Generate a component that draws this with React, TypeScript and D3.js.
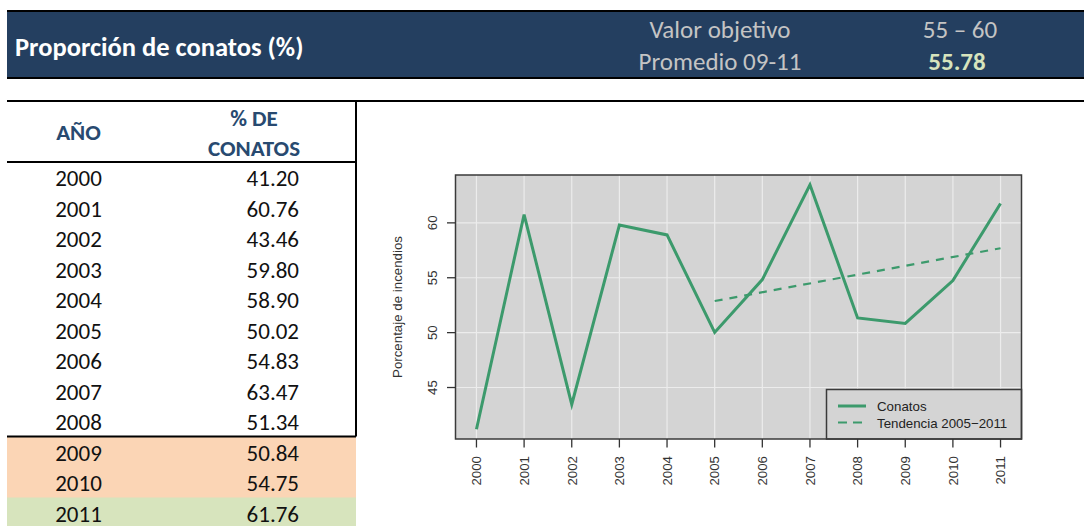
import React from "react";
import * as d3 from "d3";

const years = [2000, 2001, 2002, 2003, 2004, 2005, 2006, 2007, 2008, 2009, 2010, 2011];
const conatos = [41.2, 60.76, 43.46, 59.8, 58.9, 50.02, 54.83, 63.47, 51.34, 50.84, 54.75, 61.76];
const conatosLabels = ["41.20", "60.76", "43.46", "59.80", "58.90", "50.02", "54.83", "63.47", "51.34", "50.84", "54.75", "61.76"];
const trendYears = [2005, 2011];
const trendValues = [52.88, 57.69];
const yTicks = [45, 50, 55, 60];
const rowFills = ["none", "none", "none", "none", "none", "none", "none", "none", "none", "#fbd5b5", "#fbd5b5", "#d7e4bd"];
const titleText = "Proporción de conatos (%)";
const targetLabel = "Valor objetivo";
const targetValue = "55 – 60";
const avgLabel = "Promedio 09-11";
const avgValue = "55.78";
const colYear = "AÑO";
const colValue = ["% DE", "CONATOS"];
const yAxisTitle = "Porcentaje de incendios";
const legendLabels = ["Conatos", "Tendencia 2005\u22122011"];

const W = 1084;
const H = 526;
const green = "#3c9a6c";
const navy = "#243f60";
const tableFont = "Carlito, 'Open Sans', sans-serif";
const rFont = "'Liberation Sans', Arial, Helvetica, sans-serif";

export default function App() {
  // plot geometry
  const pl = 455.5, pr = 1021.5, pt = 175, pb = 439;
  const yMin = d3.min(conatos)!, yMax = d3.max(conatos)!;
  const yPad = (yMax - yMin) * 0.04;
  const xPad = (years[years.length - 1] - years[0]) * 0.04;
  const x = d3.scaleLinear().domain([years[0] - xPad, years[years.length - 1] + xPad]).range([pl, pr]);
  const y = d3.scaleLinear().domain([yMin - yPad, yMax + yPad]).range([pb, pt]);

  const line = d3.line<number>().x((_, i) => x(years[i])).y((d) => y(d));
  const trend = d3.line<number>().x((_, i) => x(trendYears[i])).y((d) => y(d));

  // table geometry
  const tl = 7, tr = 356;
  const rowTop = 162, rowH = 30.5;
  const yearX = 78.5, valX = 299;

  // legend geometry
  const lgL = 826.5, lgT = 389.5;

  return (
    <svg width={W} height={H} style={{ position: "absolute", left: 0, top: 0 }}>
      {/* header band */}
      <rect x={7} y={11} width={W - 7} height={67} fill={navy} />
      <line x1={7} x2={W} y1={11} y2={11} stroke="#000" strokeWidth={2} />
      <line x1={7} x2={W} y1={78} y2={78} stroke="#000" strokeWidth={2} />
      <text x={15} y={56} fill="#fff" fontFamily={tableFont} fontWeight="bold" fontSize={26.5}>
        {titleText}
      </text>
      <text x={720} y={38} fill="#c4c4c4" fontFamily={tableFont} fontSize={25} textAnchor="middle">
        {targetLabel}
      </text>
      <text x={720} y={70} fill="#c4c4c4" fontFamily={tableFont} fontSize={25} textAnchor="middle">
        {avgLabel}
      </text>
      <text x={960} y={38} fill="#c4c4c4" fontFamily={tableFont} fontSize={25} textAnchor="middle">
        {targetValue}
      </text>
      <text x={957} y={70} fill="#d7e4bd" fontFamily={tableFont} fontWeight="bold" fontSize={25} textAnchor="middle">
        {avgValue}
      </text>

      {/* table */}
      <line x1={7} x2={W} y1={101} y2={101} stroke="#000" strokeWidth={2} />
      {years.map((yr, i) =>
        rowFills[i] !== "none" ? (
          <rect key={"f" + yr} x={tl} y={rowTop + i * rowH} width={tr - tl} height={rowH + 0.5} fill={rowFills[i]} />
        ) : null
      )}
      <line x1={tr} x2={tr} y1={100} y2={rowTop + 9 * rowH} stroke="#000" strokeWidth={2} />
      <line x1={tl} x2={tr} y1={rowTop} y2={rowTop} stroke="#000" strokeWidth={2} />
      <line x1={tl} x2={tr} y1={rowTop + 9 * rowH} y2={rowTop + 9 * rowH} stroke="#000" strokeWidth={2} />
      <text x={yearX} y={140} fill="#284a70" fontFamily={tableFont} fontWeight="bold" fontSize={23} textAnchor="middle">
        {colYear}
      </text>
      {colValue.map((t, i) => (
        <text key={t} x={254} y={126 + i * 29.5} fill="#284a70" fontFamily={tableFont} fontWeight="bold" fontSize={23} textAnchor="middle">
          {t}
        </text>
      ))}
      {years.map((yr, i) => (
        <g key={"r" + yr} fontFamily={tableFont} fontSize={23} fill="#111">
          <text x={yearX} y={rowTop + i * rowH + 24} textAnchor="middle">{yr}</text>
          <text x={valX} y={rowTop + i * rowH + 24} textAnchor="end">{conatosLabels[i]}</text>
        </g>
      ))}

      {/* plot */}
      <rect x={pl} y={pt} width={pr - pl} height={pb - pt} fill="#d4d4d4" />
      {years.map((yr) => (
        <line key={"gx" + yr} x1={x(yr)} x2={x(yr)} y1={pt} y2={pb} stroke="#ececec" strokeWidth={1.2} />
      ))}
      {yTicks.map((t) => (
        <line key={"gy" + t} x1={pl} x2={pr} y1={y(t)} y2={y(t)} stroke="#ececec" strokeWidth={1.2} />
      ))}
      <path d={trend(trendValues) || ""} fill="none" stroke={green} strokeWidth={2.2} strokeDasharray="8,7" />
      <path d={line(conatos) || ""} fill="none" stroke={green} strokeWidth={3} strokeLinejoin="miter" />

      {/* legend */}
      <rect x={lgL} y={lgT} width={pr - lgL} height={pb - lgT} fill="#d4d4d4" stroke="#3a3a3a" strokeWidth={1.5} />
      <line x1={838} x2={866} y1={406} y2={406} stroke={green} strokeWidth={3} />
      <line x1={838} x2={866} y1={422.5} y2={422.5} stroke={green} strokeWidth={2.2} strokeDasharray="9,6" />
      {legendLabels.map((t, i) => (
        <text key={t} x={877} y={411 + i * 16.7} fontFamily={rFont} fontSize={13.3} fill="#222">
          {t}
        </text>
      ))}

      {/* frame */}
      <rect x={pl} y={pt} width={pr - pl} height={pb - pt} fill="none" stroke="#3a3a3a" strokeWidth={1.5} />

      {/* x axis */}
      {years.map((yr) => (
        <g key={"xt" + yr}>
          <line x1={x(yr)} x2={x(yr)} y1={pb} y2={pb + 8.5} stroke="#333" strokeWidth={1.3} />
          <text
            transform={`translate(${x(yr) + 4.8},${pb + 17}) rotate(-90)`}
            textAnchor="end"
            fontFamily={rFont}
            fontSize={13.3}
            fill="#333"
          >
            {yr}
          </text>
        </g>
      ))}

      {/* y axis */}
      {yTicks.map((t) => (
        <g key={"yt" + t}>
          <line x1={pl - 8.5} x2={pl} y1={y(t)} y2={y(t)} stroke="#333" strokeWidth={1.3} />
          <text
            transform={`translate(${pl - 19},${y(t)}) rotate(-90)`}
            textAnchor="middle"
            fontFamily={rFont}
            fontSize={13.3}
            fill="#333"
          >
            {t}
          </text>
        </g>
      ))}
      <text
        transform={`translate(402,${(pt + pb) / 2}) rotate(-90)`}
        textAnchor="middle"
        fontFamily={rFont}
        fontSize={13.3}
        fill="#333"
      >
        {yAxisTitle}
      </text>
    </svg>
  );
}
